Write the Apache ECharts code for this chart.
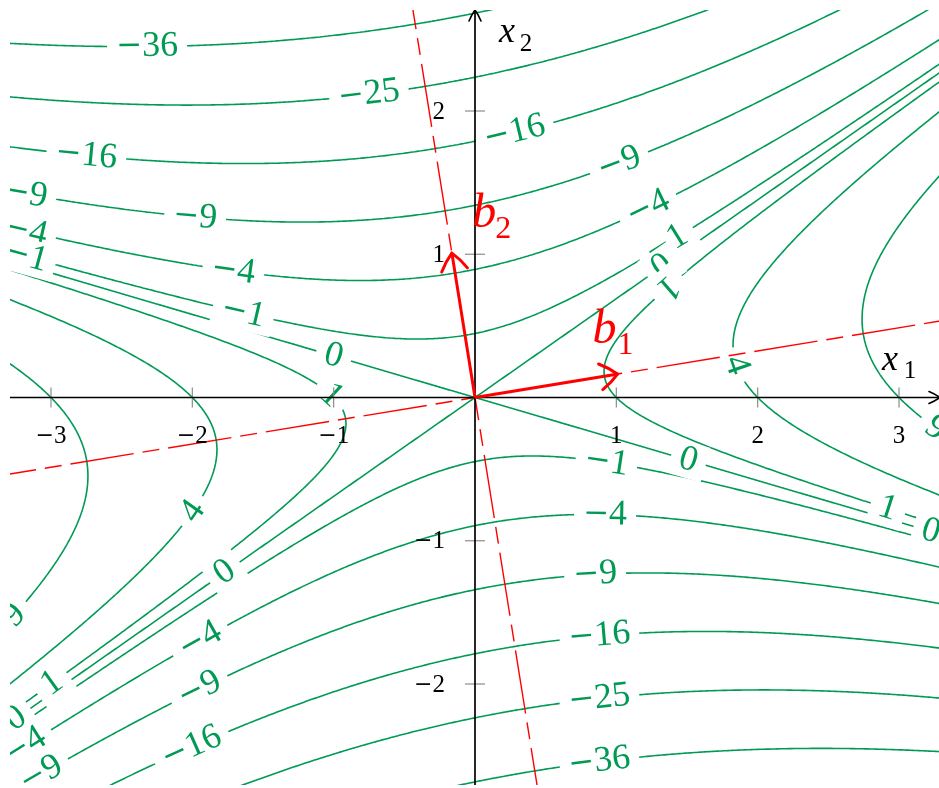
<!DOCTYPE html>
<html>
<head>
<meta charset="utf-8">
<script src="https://cdn.jsdelivr.net/npm/echarts@6/dist/echarts.min.js"></script>
<style>
  html, body { margin: 0; padding: 0; background: #fff; overflow: hidden; width: 939px; height: 788px; }
  #chart { position: absolute; left: 10px; top: 10px; width: 930px; height: 775px; }
</style>
</head>
<body>
<div id="chart"></div>
<script>
// Quadratic form f(x) = x^T A x with symmetric A
const formRow1 = [1, 1];
const formRow2 = [1, -5];

// Level sets that are drawn
const contourLevels = [-36, -25, -16, -9, -4, -1, 0, 1, 4, 9];

// Orthonormal eigenbasis of A
const basisB1 = [0.98709, 0.16018];
const basisB2 = [-0.16018, 0.98709];

// Axis extents and ticks
const x1Range = [-3.29, 3.29];
const x2Range = [-2.705, 2.705];
const x1Ticks = [-3, -2, -1, 1, 2, 3];
const x2Ticks = [-2, -1, 1, 2];

// Inline label placement: [level, approx x1, approx x2, flip text]
const labelSpots = [
  [-36, -2.32, 2.46, 0], [-25, -0.75, 2.13, 0],
  [-16, -2.75, 1.69, 0], [-16, 0.27, 1.89, 0],
  [-9, -3.18, 1.43, 0], [-9, -1.98, 1.26, 0], [-9, 1.01, 1.66, 0],
  [-4, -3.18, 1.16, 0], [-4, -1.71, 0.88, 0], [-4, 1.22, 1.33, 0],
  [-1, -3.18, 0.98, 0], [-1, -1.64, 0.59, 0], [-1, 1.33, 1.11, 0],
  [0, -1.00, 0.29, 0], [0, 1.33, 0.91, 0],
  [1, -1.02, 0.01, 0], [1, 1.40, 0.73, 1],
  [4, 1.80, 0.21, 0], [4, -1.98, -0.81, 0],
  [9, 3.25, -0.23, 0], [9, -3.25, -1.53, 0],
  [-1, 0.93, -0.46, 0], [0, 1.51, -0.44, 0], [1, 2.91, -0.79, 0], [0, 3.22, -0.96, 0],
  [-4, 0.92, -0.83, 0], [-9, 0.85, -1.24, 0], [-16, 0.88, -1.65, 0],
  [-25, 0.88, -2.10, 0], [-36, 0.88, -2.54, 0],
  [0, -1.75, -1.25, 0], [-4, -1.95, -1.69, 0], [-9, -1.97, -2.0, 0],
  [-16, -2.02, -2.41, 0], [1, -2.99, -2.0, 0], [0, -3.25, -2.24, 0],
  [-9, -3.08, -2.61, 0], [-4, -3.16, -2.48, 0]
];

const GREEN = '#009a55';
const RED = '#ff0000';
const MINUS = '\u2212';

const qa = formRow1[0], qb = formRow1[1], qd = formRow2[1];

// Branches of the conic f(x) = c, each as a polyline in data coordinates
function contourBranches(c) {
  const branches = [];
  const step = 0.005;
  if (c <= 0) {
    const n = Math.round((x1Range[1] - x1Range[0] + 0.1) / step);
    [1, -1].forEach(s => {
      const pts = [];
      for (let i = 0; i <= n; i++) {
        const x = x1Range[0] - 0.05 + i * step;
        const disc = qb * qb * x * x - qd * (qa * x * x - c);
        if (disc < 0) continue;
        pts.push([x, (-qb * x + s * Math.sqrt(disc)) / qd]);
      }
      branches.push(pts);
    });
  } else {
    const n = Math.round((x2Range[1] - x2Range[0] + 0.1) / step);
    [1, -1].forEach(s => {
      const pts = [];
      for (let i = 0; i <= n; i++) {
        const y = x2Range[0] - 0.05 + i * step;
        const disc = qb * qb * y * y - qa * (qd * y * y - c);
        if (disc < 0) continue;
        pts.push([(-qb * y + s * Math.sqrt(disc)) / qa, y]);
      }
      branches.push(pts);
    });
  }
  return branches;
}

const series = [];
const branchesByLevel = {};
contourLevels.forEach(c => {
  const br = contourBranches(c);
  branchesByLevel[c] = br;
  br.forEach(pts => {
    series.push({
      type: 'line', data: pts, symbol: 'none', showSymbol: false, silent: true,
      clip: true, z: 2, animation: false,
      lineStyle: { color: GREEN, width: 1.6 }
    });
  });
});

// Snap each label spot onto its contour and keep neighbours for the tangent
const labelData = labelSpots.map(([lv, sx, sy, flip]) => {
  let best = null, bd = Infinity;
  branchesByLevel[lv].forEach(pts => {
    for (let i = 1; i < pts.length - 1; i++) {
      const dx = pts[i][0] - sx, dy = pts[i][1] - sy;
      const dd = dx * dx + dy * dy;
      if (dd < bd) { bd = dd; best = [pts[i], pts[i - 1], pts[i + 1]]; }
    }
  });
  return [best[0][0], best[0][1], best[1][0], best[1][1], best[2][0], best[2][1], lv, flip];
});

function signedRich(v) {
  return v < 0 ? '{m|' + MINUS + '}{d|' + (-v) + '}' : '{d|' + v + '}';
}

series.push({
  type: 'custom', z: 3, silent: true, animation: false,
  encode: { x: 0, y: 1 },
  data: labelData,
  renderItem: (params, api) => {
    const p = api.coord([api.value(0), api.value(1)]);
    const A = api.coord([api.value(2), api.value(3)]);
    const B = api.coord([api.value(4), api.value(5)]);
    let ang = Math.atan2(A[1] - B[1], B[0] - A[0]);
    if (ang > Math.PI / 2) ang -= Math.PI;
    if (ang <= -Math.PI / 2) ang += Math.PI;
    if (api.value(7)) ang += Math.PI;
    return {
      type: 'text', x: p[0], y: p[1], rotation: ang,
      style: {
        text: signedRich(api.value(6)), fill: GREEN, align: 'center', verticalAlign: 'middle',
        fontFamily: 'Liberation Serif', fontSize: 36,
        backgroundColor: '#fff', padding: [0, 9],
        rich: {
          m: { fill: GREEN, fontFamily: 'DejaVu Serif', fontSize: 31 },
          d: { fill: GREEN, fontFamily: 'Liberation Serif', fontSize: 36 }
        }
      }
    };
  }
});

// Eigen-directions as dashed lines through the origin
[basisB1, basisB2].forEach(v => {
  series.push({
    type: 'line', silent: true, symbol: 'none', showSymbol: false, clip: true, z: 4,
    animation: false,
    data: [[-5 * v[0], -5 * v[1]], [5 * v[0], 5 * v[1]]],
    lineStyle: { color: RED, width: 1.4, type: [64, 9, 17, 9] }
  });
});

function headCurves(T, u, L, W, color, lw) {
  const n = [-u[1], u[0]];
  const mk = s => ({
    type: 'bezierCurve',
    shape: {
      x1: T[0], y1: T[1],
      x2: T[0] - L * u[0] + s * W * n[0], y2: T[1] - L * u[1] + s * W * n[1],
      cpx1: T[0] - 0.42 * L * u[0] + s * 0.56 * W * n[0],
      cpy1: T[1] - 0.42 * L * u[1] + s * 0.56 * W * n[1]
    },
    style: { stroke: color, lineWidth: lw, fill: null, lineCap: 'round' }
  });
  return [mk(1), mk(-1)];
}

function unitVec(P, Q) {
  const dx = Q[0] - P[0], dy = Q[1] - P[1];
  const l = Math.hypot(dx, dy);
  return [dx / l, dy / l];
}

const tickRich = {
  m: { fill: '#000', fontFamily: 'DejaVu Serif', fontSize: 22 },
  d: { fill: '#000', fontFamily: 'Liberation Serif', fontSize: 25 }
};

// Tick marks crossing the axes, with their labels
series.push({
  type: 'custom', z: 6, silent: true, animation: false,
  encode: { x: 0, y: 1 },
  data: x1Ticks.map(v => [v, 0, 0]).concat(x2Ticks.map(v => [0, v, 1])),
  renderItem: (params, api) => {
    const p = api.coord([api.value(0), api.value(1)]);
    const onX = api.value(2) === 0;
    const v = onX ? api.value(0) : api.value(1);
    return {
      type: 'group',
      children: [{
        type: 'line',
        shape: onX ? { x1: p[0], y1: p[1] - 10, x2: p[0], y2: p[1] + 10 }
                   : { x1: p[0] - 10, y1: p[1], x2: p[0] + 10, y2: p[1] },
        style: { stroke: '#8c8c8c', lineWidth: 1.2 }
      }, {
        type: 'text',
        x: onX ? p[0] : p[0] - 30,
        y: onX ? p[1] + 39 : p[1] + 1,
        style: {
          text: signedRich(v), fill: '#000', fontFamily: 'Liberation Serif', fontSize: 25,
          align: onX ? 'center' : 'right', verticalAlign: 'middle', rich: tickRich
        }
      }]
    };
  }
});

// Axis lines, arrowheads and axis names
series.push({
  type: 'custom', z: 6, silent: true, animation: false,
  encode: { x: 0, y: 1 },
  data: [[x1Range[1], 0, 1], [0, x2Range[1], 2]],
  renderItem: (params, api) => {
    const T = api.coord([api.value(0), api.value(1)]);
    const k = api.value(2);
    const S = k === 1 ? api.coord([x1Range[0], 0]) : api.coord([0, x2Range[0]]);
    const u = unitVec(S, T);
    const children = [{
      type: 'line', shape: { x1: S[0], y1: S[1], x2: T[0] - 1.5 * u[0], y2: T[1] - 1.5 * u[1] },
      style: { stroke: '#000', lineWidth: 1.7 }
    }].concat(headCurves(T, u, 11, 6, '#000', 1.6));
    const off = k === 1 ? { x: [-50, -36.6], s: [-30, -26] } : { x: [32, 22.9], s: [51, 34.6] };
    children.push({
      type: 'text', x: T[0] + off.x[0], y: T[1] + off.x[1],
      style: { text: 'x', fill: '#000', fontFamily: 'Liberation Serif', fontStyle: 'italic', fontSize: 36, align: 'center', verticalAlign: 'middle' }
    });
    children.push({
      type: 'text', x: T[0] + off.s[0], y: T[1] + off.s[1],
      style: { text: String(k), fill: '#000', fontFamily: 'Liberation Serif', fontSize: 25, align: 'center', verticalAlign: 'middle' }
    });
    return { type: 'group', children };
  }
});

// Basis vectors b1, b2
series.push({
  type: 'custom', z: 7, silent: true, animation: false,
  encode: { x: 0, y: 1 },
  data: [[basisB1[0], basisB1[1], 1], [basisB2[0], basisB2[1], 2]],
  renderItem: (params, api) => {
    const O = api.coord([0, 0]);
    const E = api.coord([api.value(0), api.value(1)]);
    const u = unitVec(O, E);
    const T = [E[0] + 3 * u[0], E[1] + 3 * u[1]];
    const k = api.value(2);
    const children = [{
      type: 'line', shape: { x1: O[0], y1: O[1], x2: T[0] - 1 * u[0], y2: T[1] - 1 * u[1] },
      style: { stroke: RED, lineWidth: 3 }
    }].concat(headCurves(T, u, 17, 13, RED, 3));
    const off = k === 1 ? { b: [-10, -44.5], s: [11, -29] } : { b: [32, -42], s: [51, -27] };
    children.push({
      type: 'text', x: E[0] + off.b[0], y: E[1] + off.b[1],
      style: { text: 'b', fill: RED, fontFamily: 'Liberation Serif', fontStyle: 'italic', fontSize: 48, align: 'center', verticalAlign: 'middle' }
    });
    children.push({
      type: 'text', x: E[0] + off.s[0], y: E[1] + off.s[1],
      style: { text: String(k), fill: RED, fontFamily: 'Liberation Serif', fontSize: 32, align: 'center', verticalAlign: 'middle' }
    });
    return { type: 'group', children };
  }
});

const chart = echarts.init(document.getElementById('chart'));
chart.setOption({
  animation: false,
  grid: { left: 0, right: 0, top: 0, bottom: 0, containLabel: false, outerBoundsMode: 'none' },
  xAxis: {
    type: 'value', min: x1Range[0], max: x1Range[1], show: false,
    splitLine: { show: false }
  },
  yAxis: {
    type: 'value', min: x2Range[0], max: x2Range[1], show: false,
    splitLine: { show: false }
  },
  series
});
</script>
</body>
</html>
